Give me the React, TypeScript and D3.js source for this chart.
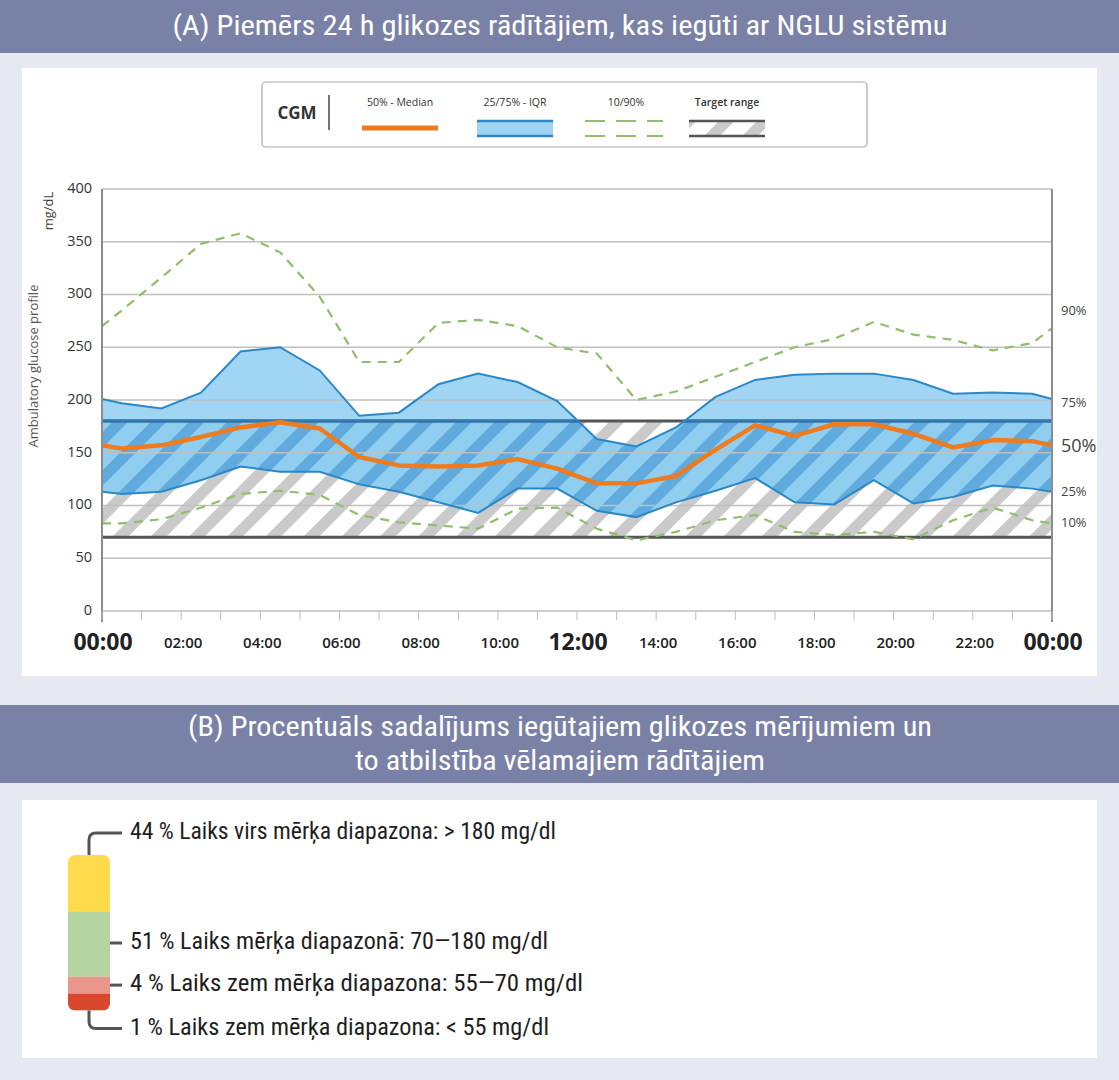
import * as d3 from "d3";

// hours of the day at which the profile is sampled (half-hour centres plus the two ends)
const hours = [0, 0.5, 1.5, 2.5, 3.5, 4.5, 5.5, 6.5, 7.5, 8.5, 9.5, 10.5, 11.5, 12.5, 13.5, 14.5, 15.5, 16.5, 17.5, 18.5, 19.5, 20.5, 21.5, 22.5, 23.5, 24];
const p90 = [270, 285, 316, 348, 358, 340, 298, 236, 236, 273, 276, 270, 250, 244, 200, 208, 222, 236, 250, 258, 274, 262, 257, 247, 254, 268];
const p75 = [201, 197, 192, 207, 246, 250, 228, 185, 188, 215, 225, 217, 199, 163, 156, 174, 203, 219, 224, 225, 225, 219, 206, 207, 206, 201];
const p50 = [157, 154, 157, 165, 174, 179, 173, 146, 138, 137, 138, 144, 135, 121, 121, 128, 153, 176, 166, 177, 177, 168, 155, 162, 161, 157];
const p25 = [113, 111, 113, 124, 137, 132, 132, 120, 113, 103, 93, 116, 116, 95, 89, 103, 114, 126, 103, 101, 124, 102, 108, 119, 116, 113];
const p10 = [83, 83, 87, 98, 111, 114, 110, 91, 84, 81, 78, 97, 98, 78, 67, 75, 86, 91, 75, 72, 75, 68, 86, 98, 86, 83];

const targetRange = [70, 180];
const yTicks = [0, 50, 100, 150, 200, 250, 300, 350, 400];
const xTickHours = [0, 2, 4, 6, 8, 10, 12, 14, 16, 18, 20, 22, 24];
const xTickLabels = ["00:00", "02:00", "04:00", "06:00", "08:00", "10:00", "12:00", "14:00", "16:00", "18:00", "20:00", "22:00", "00:00"];
const majorHours = [0, 12, 24];
const hourTicks = d3.range(0, 25);

const rightLabels = ["90%", "75%", "50%", "25%", "10%"];
const rightLabelValues = [284, 197, 155, 112, 83];

const titleA = "(A) Piemērs 24 h glikozes rādītājiem, kas iegūti ar NGLU sistēmu";
const titleB1 = "(B) Procentuāls sadalījums iegūtajiem glikozes mērījumiem un";
const titleB2 = "to atbilstība vēlamajiem rādītājiem";

const tirLabels = [
  "44 % Laiks virs mērķa diapazona: > 180 mg/dl",
  "51 % Laiks mērķa diapazonā: 70—180 mg/dl",
  "4 % Laiks zem mērķa diapazona: 55—70 mg/dl",
  "1 % Laiks zem mērķa diapazona: < 55 mg/dl",
];
const tirPercents = [44, 51, 4, 1];
const tirColors = ["#fddb4c", "#b6d4a1", "#e9978a", "#d8482c"];

const NARROW = "'Liberation Sans Narrow', 'Roboto Condensed', Roboto, 'Liberation Sans', sans-serif";
const SANS = "'Open Sans', 'Noto Sans', sans-serif";

export default function App() {
  const W = 1119;
  const H = 1080;
  const x = d3.scaleLinear().domain([0, 24]).range([102, 1052]);
  const y = d3.scaleLinear().domain([0, 400]).range([611, 189]);

  const pts = hours.map((h, i) => ({ h, p90: p90[i], p75: p75[i], p50: p50[i], p25: p25[i], p10: p10[i] }));
  type P = (typeof pts)[number];
  const line = (k: keyof P) =>
    d3.line<P>().x((d) => x(d.h)).y((d) => y(d[k] as number))(pts) ?? "";
  const iqr =
    d3.area<P>().x((d) => x(d.h)).y0((d) => y(d.p25)).y1((d) => y(d.p75))(pts) ?? "";

  const bandX = x(0);
  const bandW = x(24) - x(0);
  const bandY = y(targetRange[1]);
  const bandH = y(targetRange[0]) - y(targetRange[1]);

  // time-in-range stack (small segments get a minimum height so they stay visible)
  const seg = d3.scaleLinear().domain([0, 100]).range([0, 128]);
  const segH = tirPercents.map((p) => Math.max(17, seg(p)));
  const barTop = 855;
  const segY: number[] = [];
  segH.reduce((acc, h) => {
    segY.push(acc);
    return acc + h;
  }, barTop);
  const barBottom = barTop + d3.sum(segH);
  const barX = 68;
  const barW = 42;
  const rowY = [833, 943, segY[2] + segH[2] / 2, barBottom + 18];
  const textWidths = [426, 418, 453, 419];

  return (
    <svg width={W} height={H} style={{ position: "absolute", left: 0, top: 0 }}>
      <defs>
        <pattern id="hatchGrey" patternUnits="userSpaceOnUse" width={27} height={27} patternTransform="rotate(45)">
          <rect width={27} height={27} fill="#ffffff" />
          <rect width={11} height={27} fill="#cacaca" />
        </pattern>
        <pattern id="hatchBlue" patternUnits="userSpaceOnUse" width={27} height={27} patternTransform="rotate(45)">
          <rect width={27} height={27} fill="#90cef0" />
          <rect width={11} height={27} fill="#60aadd" />
        </pattern>
        <clipPath id="iqrClip">
          <path d={iqr} />
        </clipPath>
      </defs>

      <rect width={W} height={H} fill="#e7e9f2" />

      {/* header A */}
      <rect x={0} y={0} width={W} height={53} fill="#7a81a6" />
      <text x={560} y={28} fill="#fff" fontFamily={NARROW} fontSize={27} textAnchor="middle" dominantBaseline="middle" textLength={775} lengthAdjust="spacingAndGlyphs">
        {titleA}
      </text>

      <rect x={22} y={68} width={1075} height={608} fill="#ffffff" />

      {/* legend */}
      <g fontFamily={SANS}>
        <rect x={262} y={82} width={605} height={65} rx={4} fill="#fff" stroke="#a9a9a9" strokeWidth={1.2} />
        <text x={297} y={114} fontSize={17} fontWeight={700} fill="#333" textAnchor="middle" dominantBaseline="middle">CGM</text>
        <line x1={329} x2={329} y1={95} y2={130} stroke="#444" strokeWidth={1.5} />
        <text x={400} y={106} fontSize={10.5} fill="#333" textAnchor="middle">50% - Median</text>
        <line x1={362} x2={438} y1={128} y2={128} stroke="#ef7b1f" strokeWidth={5} />
        <text x={515} y={106} fontSize={10.5} fill="#333" textAnchor="middle">25/75% - IQR</text>
        <rect x={477} y={121} width={76} height={15} fill="#9fd4f2" />
        <line x1={477} x2={553} y1={121} y2={121} stroke="#2f86c6" strokeWidth={2.5} />
        <line x1={477} x2={553} y1={136} y2={136} stroke="#2f86c6" strokeWidth={2.5} />
        <text x={626} y={106} fontSize={10.5} fill="#333" textAnchor="middle">10/90%</text>
        <line x1={585} x2={663} y1={121} y2={121} stroke="#92bd6c" strokeWidth={2} strokeDasharray="20 11" />
        <line x1={585} x2={663} y1={136} y2={136} stroke="#92bd6c" strokeWidth={2} strokeDasharray="20 11" />
        <text x={727} y={106} fontSize={10.5} fontWeight={600} fill="#333" textAnchor="middle">Target range</text>
        <rect x={689} y={121} width={76} height={15} fill="url(#hatchGrey)" />
        <line x1={689} x2={765} y1={121} y2={121} stroke="#555" strokeWidth={2.5} />
        <line x1={689} x2={765} y1={136} y2={136} stroke="#555" strokeWidth={2.5} />
      </g>

      {/* target band + IQR */}
      <rect x={bandX} y={bandY} width={bandW} height={bandH} fill="url(#hatchGrey)" />
      <path d={iqr} fill="#a0d5f3" />
      <rect x={bandX} y={bandY} width={bandW} height={bandH} fill="url(#hatchBlue)" clipPath="url(#iqrClip)" />

      {/* grid */}
      {yTicks.map((t) => (
        <line key={t} x1={x(0)} x2={x(24)} y1={y(t)} y2={y(t)} stroke="#bfbfbf" strokeWidth={1.5} />
      ))}

      {/* target lines */}
      {targetRange.map((t) => (
        <line key={t} x1={x(0)} x2={x(24)} y1={y(t)} y2={y(t)} stroke="#555" strokeWidth={3} />
      ))}
      <line x1={x(0)} x2={x(24)} y1={y(targetRange[1])} y2={y(targetRange[1])} stroke="#2b7bb6" strokeWidth={3} clipPath="url(#iqrClip)" />

      <path d={line("p75")} fill="none" stroke="#2a88c8" strokeWidth={2} />
      <path d={line("p25")} fill="none" stroke="#2a88c8" strokeWidth={2} />
      <path d={line("p90")} fill="none" stroke="#92bd6c" strokeWidth={2.2} strokeDasharray="9 7" />
      <path d={line("p10")} fill="none" stroke="#92bd6c" strokeWidth={2.2} strokeDasharray="9 7" />
      <path d={line("p50")} fill="none" stroke="#ef7b1f" strokeWidth={4.5} strokeLinejoin="round" />

      {/* axes */}
      <line x1={x(0)} x2={x(0)} y1={y(400)} y2={622} stroke="#8c8c8c" strokeWidth={2} />
      <line x1={x(24)} x2={x(24)} y1={y(400)} y2={622} stroke="#8c8c8c" strokeWidth={2} />
      {hourTicks.map((h) => (
        <line key={h} x1={x(h)} x2={x(h)} y1={y(0)} y2={620} stroke="#bdbdbd" strokeWidth={1} />
      ))}

      <g fontFamily={SANS} fill="#333">
        {yTicks.map((t) => (
          <text key={t} x={92} y={y(t)} fontSize={14.5} textAnchor="end" dominantBaseline="middle">{t}</text>
        ))}
        <text transform={`translate(50,211) rotate(-90)`} fontSize={13} textAnchor="middle" dominantBaseline="middle" fill="#444">mg/dL</text>
        <text transform={`translate(35,366) rotate(-90)`} fontSize={13} textAnchor="middle" dominantBaseline="middle" fill="#555">Ambulatory glucose profile</text>
        {xTickHours.map((h, i) => {
          const major = majorHours.includes(h);
          return (
            <text key={i} x={x(h) + (major ? 1 : 2)} y={major ? 650 : 648} fontSize={major ? 23 : 15} fontWeight={major ? 700 : 600} textAnchor="middle" fill="#222">
              {xTickLabels[i]}
            </text>
          );
        })}
        {rightLabels.map((l, i) => (
          <text key={l} x={1061} y={y(rightLabelValues[i])} fontSize={l === "50%" ? 18 : 13} dominantBaseline="middle" fill="#444">{l}</text>
        ))}
      </g>

      {/* header B */}
      <rect x={0} y={705} width={W} height={78} fill="#7a81a6" />
      <text x={560} y={729} fill="#fff" fontFamily={NARROW} fontSize={27} textAnchor="middle" dominantBaseline="middle" textLength={744} lengthAdjust="spacingAndGlyphs">
        {titleB1}
      </text>
      <text x={560} y={763} fill="#fff" fontFamily={NARROW} fontSize={27} textAnchor="middle" dominantBaseline="middle" textLength={410} lengthAdjust="spacingAndGlyphs">
        {titleB2}
      </text>

      <rect x={22} y={800} width={1075} height={258} fill="#ffffff" />

      {/* time in range stack */}
      <clipPath id="barClip">
        <rect x={barX} y={barTop} width={barW} height={barBottom - barTop} rx={7} />
      </clipPath>
      <g clipPath="url(#barClip)">
        {tirPercents.map((p, i) => (
          <rect key={p + "-" + i} x={barX} y={segY[i]} width={barW} height={segH[i]} fill={tirColors[i]} />
        ))}
      </g>
      <g fill="none" stroke="#555" strokeWidth={3}>
        <path d={`M${barX + barW / 2},${barTop} V${rowY[0] + 7} Q${barX + barW / 2},${rowY[0]} ${barX + barW / 2 + 7},${rowY[0]} H122`} />
        <path d={`M${barX + barW},${rowY[1]} H122`} />
        <path d={`M${barX + barW},${rowY[2]} H122`} />
        <path d={`M${barX + barW / 2},${barBottom} V${rowY[3] - 7} Q${barX + barW / 2},${rowY[3]} ${barX + barW / 2 + 7},${rowY[3]} H122`} />
      </g>
      {tirLabels.map((t, i) => (
        <text key={i} x={130} y={rowY[i]} fontFamily={NARROW} fontSize={23.5} fill="#1e1e1e" dominantBaseline="middle" textLength={textWidths[i]} lengthAdjust="spacingAndGlyphs">
          {t}
        </text>
      ))}
    </svg>
  );
}
